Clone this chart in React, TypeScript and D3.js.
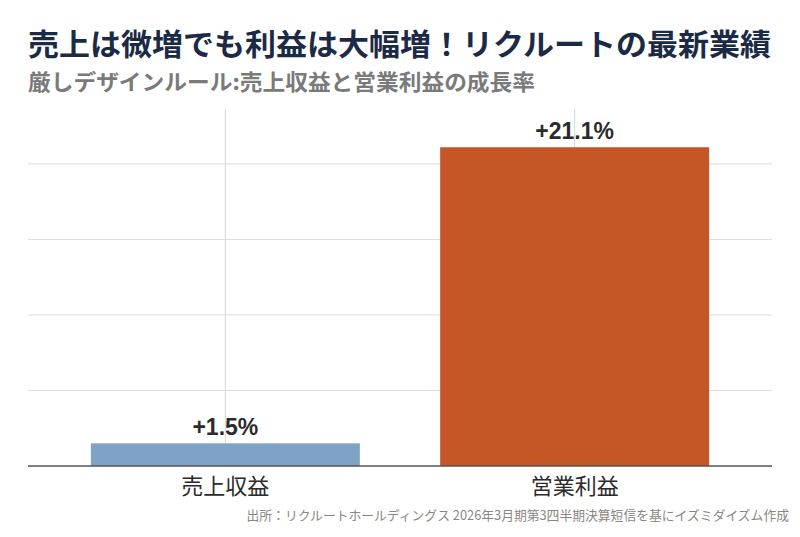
import React from "react";
import * as d3 from "d3";

const categories = ["売上収益", "営業利益"];
const growth = [1.5, 21.1];
const valueLabels = ["+1.5%", "+21.1%"];
const gridValues = [5, 10, 15, 20];
const barColors = ["#7fa2c8", "#c55625"];

const title = "売上は微増でも利益は大幅増！リクルートの最新業績";
const subtitle = "厳しデザインルール:売上収益と営業利益の成長率";
const source = "出所：リクルートホールディングス 2026年3月期第3四半期決算短信を基にイズミダイズム作成";

const W = 800;
const H = 537;
const left = 28;
const right = 772;
const top = 109;
const bottom = 466;

const JP = "'Noto Sans CJK JP', 'Noto Sans', sans-serif";
const NUM = "'Liberation Sans', Arial, 'Noto Sans CJK JP', sans-serif";

export default function App() {
  const x = d3
    .scaleBand<string>()
    .domain(categories)
    .range([left, right])
    .paddingInner(0.23)
    .paddingOuter(0.18);
  const y = d3
    .scaleLinear()
    .domain([0, (d3.max(growth) as number) * 1.12])
    .range([bottom, top]);

  return (
    <svg
      width={W}
      height={H}
      viewBox={`0 0 ${W} ${H}`}
      style={{ position: "absolute", left: 0, top: 0, background: "#fff" }}
    >
      <rect x={0} y={0} width={W} height={H} fill="#fff" />
      <text
        x={28}
        y={55}
        fontFamily={JP}
        fontWeight={700}
        fontSize={30}
        fill="#1b2a45"
        textLength={743}
        lengthAdjust="spacingAndGlyphs"
      >
        {title}
      </text>
      <text
        x={28}
        y={90}
        fontFamily={JP}
        fontWeight={700}
        fontSize={22}
        fill="#7a7a7a"
        textLength={507}
        lengthAdjust="spacingAndGlyphs"
      >
        {subtitle}
      </text>

      {/* value labels (drawn under grid lines) */}
      {categories.map((c, i) => (
        <text
          key={"v" + c}
          x={(x(c) as number) + x.bandwidth() / 2}
          y={y(growth[i]) - 8}
          textAnchor="middle"
          fontFamily={NUM}
          fontWeight={700}
          fontSize={23}
          fill="#2b2b2b"
        >
          {valueLabels[i]}
        </text>
      ))}

      {/* horizontal grid */}
      {gridValues.map((g) => (
        <line
          key={"h" + g}
          x1={left}
          x2={right}
          y1={y(g)}
          y2={y(g)}
          stroke="#dcdcdc"
          strokeWidth={1}
        />
      ))}
      {/* vertical grid */}
      {categories.map((c) => (
        <line
          key={"vg" + c}
          x1={(x(c) as number) + x.bandwidth() / 2}
          x2={(x(c) as number) + x.bandwidth() / 2}
          y1={y.range()[1]}
          y2={bottom}
          stroke="#d6d6d6"
          strokeWidth={1}
        />
      ))}

      {/* bars */}
      {categories.map((c, i) => (
        <rect
          key={"b" + c}
          x={x(c)}
          y={y(growth[i])}
          width={x.bandwidth()}
          height={bottom - y(growth[i])}
          fill={barColors[i]}
        />
      ))}

      {/* baseline */}
      <line x1={left} x2={right} y1={bottom} y2={bottom} stroke="#555" strokeWidth={1.5} />

      {/* category labels */}
      {categories.map((c) => (
        <text
          key={"c" + c}
          x={(x(c) as number) + x.bandwidth() / 2}
          y={494}
          textAnchor="middle"
          fontFamily={JP}
          fontSize={22}
          fill="#2b2b2b"
        >
          {c}
        </text>
      ))}

      <text
        x={789}
        y={520}
        textAnchor="end"
        fontFamily={JP}
        fontSize={12.8}
        fill="#8c8680"
      >
        {source}
      </text>
    </svg>
  );
}
